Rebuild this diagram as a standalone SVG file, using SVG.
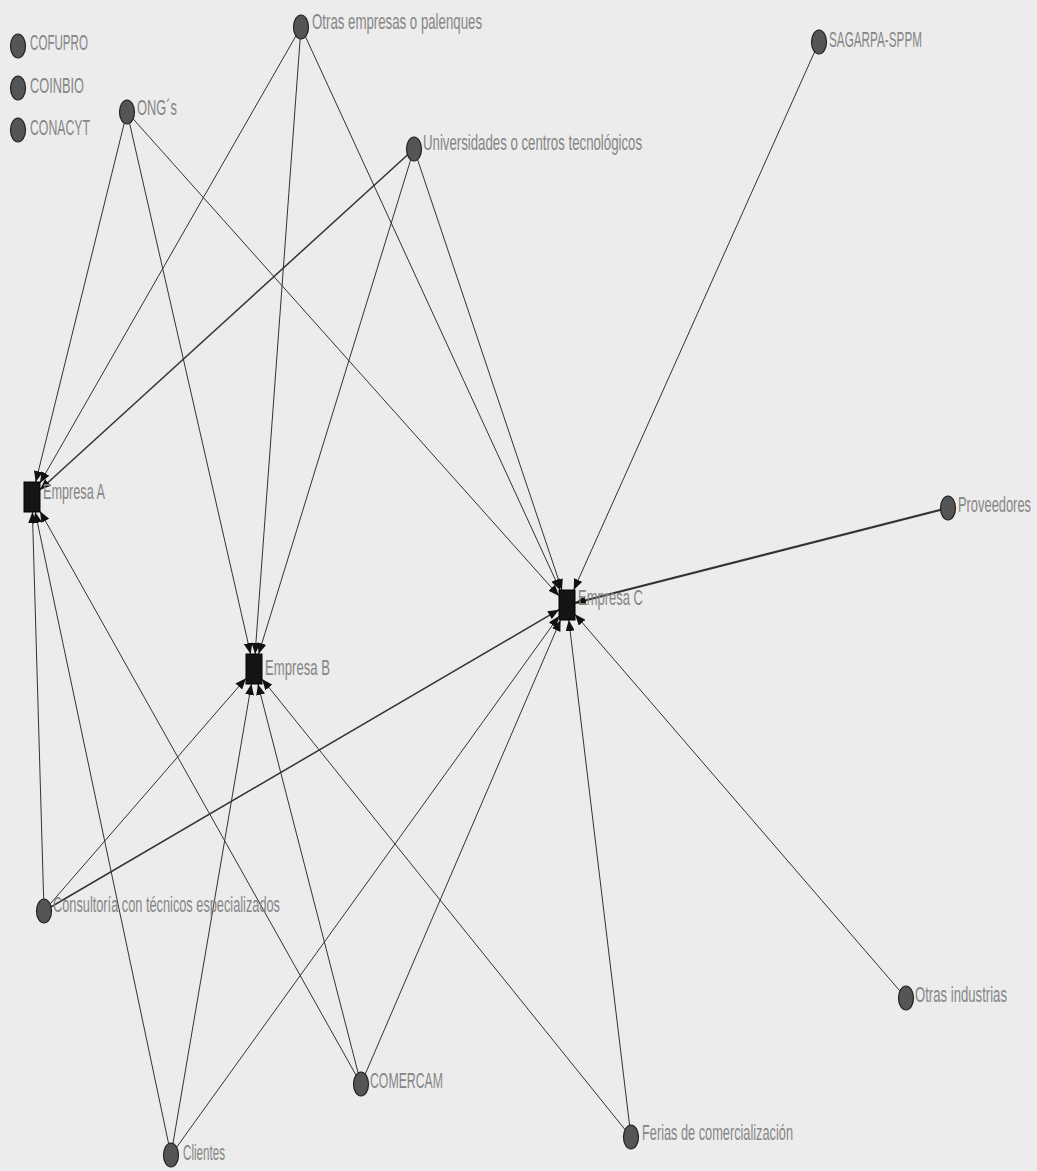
<svg xmlns="http://www.w3.org/2000/svg" width="1037" height="1171" viewBox="0 0 1037 1171">
<defs>
<marker id="arr" markerUnits="userSpaceOnUse" markerWidth="11" markerHeight="9" refX="11" refY="4.5" orient="auto">
<path d="M0,0 L11,4.5 L0,9 z" fill="#111"/>
</marker>
<style>
.e{stroke:#333;stroke-width:1;fill:none;marker-end:url(#arr)}
.n{fill:#555;stroke:#222;stroke-width:1.2}
.s{fill:#151515;stroke:#000;stroke-width:1}
.t{font-family:"Liberation Sans","DejaVu Sans",sans-serif;font-size:13.5px;fill:#868686}
</style>
</defs>
<rect width="1037" height="1171" fill="#ececec"/>
<g id="connectors">
<line class="e" x1="127" y1="112" x2="35.7" y2="482"/>
<line class="e" x1="127" y1="112" x2="250.6" y2="654"/>
<line class="e" x1="127" y1="112" x2="559" y2="596"/>
<line class="e" x1="301" y1="27" x2="40" y2="483"/>
<line class="e" x1="301" y1="27" x2="255.1" y2="654"/>
<line class="e" x1="301" y1="27" x2="560.1" y2="590"/>
<line class="e" x1="414" y1="149" x2="40" y2="489.7" style="stroke-width:1.5"/>
<line class="e" x1="414" y1="149" x2="258.6" y2="654"/>
<line class="e" x1="414" y1="149" x2="562" y2="590"/>
<line class="e" x1="819" y1="42" x2="573.7" y2="590"/>
<line class="e" x1="948" y1="508" x2="575" y2="603" style="stroke-width:2.2"/>
<line class="e" x1="44" y1="911" x2="32.4" y2="512"/>
<line class="e" x1="44" y1="911" x2="246" y2="678.2"/>
<line class="e" x1="44" y1="911" x2="559" y2="609.7" style="stroke-width:1.5"/>
<line class="e" x1="906" y1="998" x2="575" y2="614.3"/>
<line class="e" x1="361" y1="1084" x2="40" y2="511.3"/>
<line class="e" x1="361" y1="1084" x2="257.9" y2="684"/>
<line class="e" x1="361" y1="1084" x2="560.6" y2="620"/>
<line class="e" x1="171" y1="1155" x2="35.2" y2="512"/>
<line class="e" x1="171" y1="1155" x2="251.4" y2="684"/>
<line class="e" x1="171" y1="1155" x2="559" y2="616.1"/>
<line class="e" x1="631" y1="1137" x2="262" y2="678.9"/>
<line class="e" x1="631" y1="1137" x2="568.8" y2="620"/>
</g>
<g id="cofupro"><ellipse class="n" cx="18" cy="46" rx="7.5" ry="12"/><text class="t" transform="translate(30,50) scale(1,1.65)" textLength="58" lengthAdjust="spacingAndGlyphs">COFUPRO</text></g>
<g id="coinbio"><ellipse class="n" cx="18" cy="88" rx="7.5" ry="12"/><text class="t" transform="translate(30,93) scale(1,1.65)" textLength="54" lengthAdjust="spacingAndGlyphs">COINBIO</text></g>
<g id="conacyt"><ellipse class="n" cx="18" cy="130" rx="7.5" ry="12"/><text class="t" transform="translate(30,135) scale(1,1.65)" textLength="60" lengthAdjust="spacingAndGlyphs">CONACYT</text></g>
<g id="ongs"><ellipse class="n" cx="127" cy="112" rx="7.5" ry="12"/><text class="t" transform="translate(137,115) scale(1,1.65)" textLength="40" lengthAdjust="spacingAndGlyphs">ONG´s</text></g>
<g id="otras-empresas"><ellipse class="n" cx="301" cy="27" rx="7.5" ry="12"/><text class="t" transform="translate(312,29) scale(1,1.65)" textLength="170" lengthAdjust="spacingAndGlyphs">Otras empresas o palenques</text></g>
<g id="universidades"><ellipse class="n" cx="414" cy="149" rx="7.5" ry="12"/><text class="t" transform="translate(423,150) scale(1,1.65)" textLength="219" lengthAdjust="spacingAndGlyphs">Universidades o centros tecnológicos</text></g>
<g id="sagarpa"><ellipse class="n" cx="819" cy="42" rx="7.5" ry="12"/><text class="t" transform="translate(829,47) scale(1,1.65)" textLength="93" lengthAdjust="spacingAndGlyphs">SAGARPA-SPPM</text></g>
<g id="empresa-a"><rect class="s" x="24" y="482" width="16" height="30"/><text class="t" transform="translate(43,499) scale(1,1.65)" textLength="62" lengthAdjust="spacingAndGlyphs">Empresa A</text></g>
<g id="empresa-b"><rect class="s" x="246" y="654" width="16" height="30"/><text class="t" transform="translate(265,675) scale(1,1.65)" textLength="65" lengthAdjust="spacingAndGlyphs">Empresa B</text></g>
<g id="empresa-c"><rect class="s" x="559" y="590" width="16" height="30"/><text class="t" transform="translate(578,605) scale(1,1.65)" textLength="65" lengthAdjust="spacingAndGlyphs">Empresa C</text></g>
<g id="proveedores"><ellipse class="n" cx="948" cy="508" rx="7.5" ry="12"/><text class="t" transform="translate(958,512) scale(1,1.65)" textLength="73" lengthAdjust="spacingAndGlyphs">Proveedores</text></g>
<g id="consultoria"><ellipse class="n" cx="44" cy="911" rx="7.5" ry="12"/><text class="t" transform="translate(53,912) scale(1,1.65)" textLength="227" lengthAdjust="spacingAndGlyphs">Consultoría con técnicos especializados</text></g>
<g id="otras-industrias"><ellipse class="n" cx="906" cy="998" rx="7.5" ry="12"/><text class="t" transform="translate(915,1002) scale(1,1.65)" textLength="92" lengthAdjust="spacingAndGlyphs">Otras industrias</text></g>
<g id="comercam"><ellipse class="n" cx="361" cy="1084" rx="7.5" ry="12"/><text class="t" transform="translate(370,1088) scale(1,1.65)" textLength="73" lengthAdjust="spacingAndGlyphs">COMERCAM</text></g>
<g id="clientes"><ellipse class="n" cx="171" cy="1155" rx="7.5" ry="12"/><text class="t" transform="translate(183,1160) scale(1,1.65)" textLength="42" lengthAdjust="spacingAndGlyphs">Clientes</text></g>
<g id="ferias"><ellipse class="n" cx="631" cy="1137" rx="7.5" ry="12"/><text class="t" transform="translate(642,1140) scale(1,1.65)" textLength="151" lengthAdjust="spacingAndGlyphs">Ferias de comercialización</text></g>
</svg>
